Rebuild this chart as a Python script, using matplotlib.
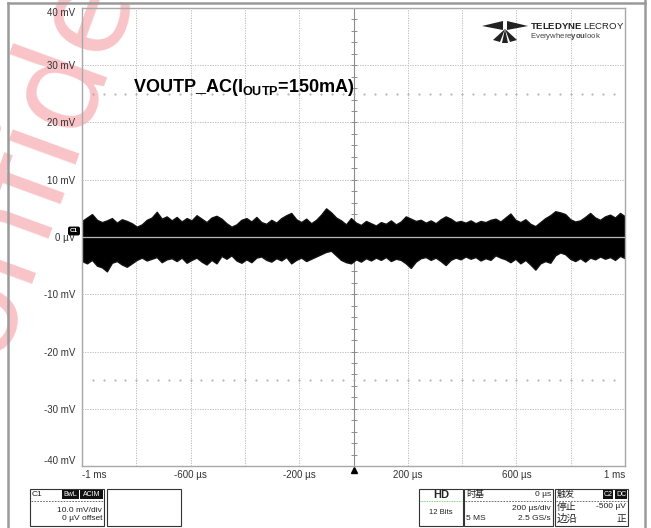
import numpy as np
import matplotlib
matplotlib.use("Agg")
from matplotlib import pyplot as plt
from matplotlib.patches import Rectangle, Polygon
from matplotlib.lines import Line2D
from matplotlib.transforms import Affine2D, blended_transform_factory

plt.rcParams['font.family'] = ['Liberation Sans', 'Noto Sans CJK SC', 'DejaVu Sans']
plt.rcParams['mathtext.fontset'] = 'custom'
plt.rcParams['mathtext.rm'] = 'Liberation Sans'
plt.rcParams['mathtext.bf'] = 'Liberation Sans:bold'

# data: envelope of the noise trace (mV), read along the screen, -1 ms .. 1 ms
upper_mv = [2.8, 3.4, 4.0, 3.0, 2.6, 2.9, 3.3, 2.5, 3.1, 2.8,
            2.4, 1.8, 2.2, 3.0, 3.4, 4.4, 3.2, 3.6, 2.9, 3.5,
            2.7, 3.3, 2.9, 3.8, 3.2, 2.6, 3.4, 3.7, 3.2, 2.4,
            1.8, 2.2, 3.0, 3.3, 2.7, 3.5, 2.6, 2.3, 3.0, 2.5,
            3.3, 3.8, 4.2, 3.1, 2.6, 3.2, 2.4, 3.0, 3.9, 5.0,
            4.3, 3.4, 2.9, 2.2, 3.3, 2.5, 2.1, 2.8, 2.4, 2.0,
            2.6, 2.3, 2.9, 2.2, 2.7, 3.6, 3.2, 2.8, 3.0, 2.5,
            2.9, 2.4, 3.1, 3.6, 3.2, 2.6, 2.8, 2.5, 2.9, 2.4,
            2.8, 2.6, 3.0, 3.2, 2.7, 3.4, 4.1, 3.0, 2.6, 3.1,
            2.3, 1.9, 2.6, 3.3, 3.8, 4.5, 4.3, 4.0, 3.1, 2.7,
            2.9, 3.5, 4.2, 3.4, 3.0, 3.6, 3.9, 3.4, 4.2, 3.6]
lower_mv = [-4.2, -4.6, -4.0, -5.0, -5.3, -6.0, -4.5, -4.2, -4.8, -5.2,
            -4.6, -4.0, -3.6, -4.1, -3.8, -3.5, -4.4, -3.9, -3.7, -4.2,
            -3.6, -4.5, -4.0, -3.6, -4.3, -4.8, -4.0, -4.6, -3.3, -3.8,
            -3.2, -4.1, -4.5, -3.9, -4.4, -3.6, -3.4, -4.0, -4.3, -3.7,
            -4.1, -3.5, -4.6, -4.0, -3.6, -4.2, -3.8, -3.4, -3.0, -2.6,
            -2.4, -3.2, -4.0, -4.4, -4.6, -3.9, -4.3, -3.7, -4.1, -3.6,
            -4.0, -3.5, -4.2, -3.8, -4.0, -4.6, -5.4, -4.3, -3.7, -3.5,
            -4.0, -3.6, -4.2, -4.9, -4.0, -3.6, -3.9, -3.4, -3.8, -3.5,
            -4.1, -3.7, -4.0, -3.2, -3.6, -3.9, -4.4, -3.8, -4.6, -4.0,
            -4.8, -5.7, -4.6, -4.2, -4.5, -3.2, -2.7, -3.0, -3.8, -4.2,
            -3.7, -4.3, -3.6, -3.9, -3.4, -3.8, -3.5, -4.0, -3.3, -3.7]
time_ms = np.linspace(-1.0, 1.0, len(upper_mv))

ytick_vals = [-40, -30, -20, -10, 0, 10, 20, 30, 40]
ytick_labels = ['-40 mV', '-30 mV', '-20 mV', '-10 mV', '0 µV', '10 mV', '20 mV', '30 mV', '40 mV']
xtick_vals = [-1.0, -0.6, -0.2, 0.2, 0.6, 1.0]
xtick_labels = ['-1 ms', '-600 µs', '-200 µs', '200 µs', '600 µs', '1 ms']
title_text = r'VOUTP_AC(I$_{\mathbf{OUTP}}$=150mA)'

W, H = 651, 528
fig = plt.figure(figsize=(W / 100, H / 100), dpi=100)
px = Affine2D().scale(1 / W, -1 / H).translate(0, 1) + fig.transFigure

# watermark behind everything
fig.text(-32, 440, 'Confidential', transform=px, rotation=70, rotation_mode='anchor',
         ha='left', va='baseline', fontsize=95, color='#f9c4c8', family='Noto Sans',
         zorder=-5)

ax = fig.add_axes([82 / W, 1 - 466 / H, (625 - 82) / W, (466 - 8) / H])
ax.patch.set_visible(False)
ax.set_xlim(-1, 1)
ax.set_ylim(-40, 40)
for s in ax.spines.values():
    s.set_color('#a8a8a8')
    s.set_linewidth(1.0)

# graticule
for gx in np.arange(-0.8, 0.81, 0.2):
    if abs(gx) > 1e-6:
        ax.axvline(gx, color='#b4b4b4', lw=0.6, ls=(0, (1.5, 1.5)), zorder=1)
for gy in range(-30, 31, 10):
    if gy != 0:
        ax.axhline(gy, color='#b4b4b4', lw=0.6, ls=(0, (1.5, 1.5)), zorder=1)
ax.axvline(0, color='#8c8c8c', lw=0.8, zorder=1)
ax.plot(np.arange(-0.96, 0.97, 0.04), np.zeros(49), ls='none', marker='|', ms=4,
        color='#8c8c8c', mew=0.7, zorder=1)
ax.plot(np.zeros(39), np.arange(-38, 39, 2), ls='none', marker='_', ms=4,
        color='#8c8c8c', mew=0.7, zorder=1)
for gy in (25, -25):
    ax.plot(np.arange(-0.96, 0.97, 0.04), np.full(49, gy), ls='none', marker='.', ms=1.0,
            color='#a8a8a8', zorder=1)

# trace
ax.fill_between(time_ms, lower_mv, upper_mv, color='black', lw=1.0, edgecolor='#111111', zorder=2)
ax.axhline(0, color='#b8b8b8', lw=0.9, zorder=3)

# ticks
ax.set_yticks(ytick_vals)
ax.set_yticklabels(ytick_labels)
ax.set_xticks(xtick_vals)
ax.set_xticklabels(xtick_labels)
ax.tick_params(length=0, labelsize=7, colors='#333333', pad=3)
ax.tick_params(axis='y', pad=5)
ylab = ax.get_yticklabels()
ylab[0].set_va('bottom')
ylab[-1].set_va('top')
xlab = ax.get_xticklabels()
xlab[0].set_ha('left')
xlab[-1].set_ha('right')

# trigger marker and channel badge
tr = blended_transform_factory(ax.transData, ax.transAxes)
ax.plot([0], [-0.008], marker='^', ms=5, color='black', transform=tr, clip_on=False)
fig.text(74, 231, 'C1', transform=px, ha='center', va='center', fontsize=4.5,
         color='white', fontweight='bold',
         bbox=dict(boxstyle='round,pad=0.2', fc='black', ec='black'))

ax.text(0.094, 0.8275, title_text, transform=ax.transAxes, fontsize=13,
        fontweight='bold', ha='left', va='center', color='black')

# outer frame
fig.add_artist(Line2D([8, 645], [3, 3], transform=px, color='#9a9a9a', lw=1.8))
fig.add_artist(Line2D([8, 8], [3, H], transform=px, color='#9a9a9a', lw=1.8))
fig.add_artist(Line2D([645, 645], [0, H], transform=px, color='#9a9a9a', lw=1.8))

# logo
for pts in ([(482, 26), (503, 21), (503, 30)],
            [(528, 26), (507, 21), (507, 30)],
            [(505, 29), (493, 40), (500, 42)],
            [(505, 29), (502, 43), (508, 43)],
            [(505, 29), (510, 42), (517, 40)]):
    fig.add_artist(Polygon(pts, closed=True, transform=px, fc='#222222', ec='none'))
fig.text(530, 26, r'$\mathbf{TELEDYNE}$ LECROY', transform=px, fontsize=6.8,
         va='center', color='#222222')
fig.text(530, 37, r'Everywhere$\mathbf{you}$look', transform=px, fontsize=5.6,
         va='center', color='#444444')


def box(x0, x1, y0=489, y1=526):
    fig.add_artist(Rectangle((x0, y0), x1 - x0, y1 - y0, transform=px, fill=False,
                             ec='#333333', lw=0.8))


def badge(x0, x1, label):
    fig.add_artist(Rectangle((x0, 490), x1 - x0, 9, transform=px, fc='#111111', ec='none'))
    fig.text((x0 + x1) / 2, 494.5, label, transform=px, fontsize=5, color='white',
             ha='center', va='center')


def sep(x0, x1, color='#555555', ls=(0, (2, 1.5))):
    fig.add_artist(Line2D([x0, x1], [501, 501], transform=px, color=color, lw=0.6, ls=ls))


def t(x, y, s, ha='left', size=6, **kw):
    fig.text(x, y, s, transform=px, fontsize=size, ha=ha, va='center', color='#222222', **kw)


box(30, 104)
box(107, 181)
t(32, 494, 'C1')
badge(62, 79, 'BwL')
badge(80, 103, 'ACIM')
sep(31, 103)
t(102, 510, '10.0 mV/div', ha='right')
t(102, 519, '0 µV offset', ha='right')

box(419, 463)
t(441, 495, 'HD', ha='center', size=8, fontweight='bold')
sep(420, 462, color='#5cc05c', ls=(0, (1, 1)))
t(441, 513, '12 Bits', ha='center', size=5.5)

box(464, 553)
t(466, 494, '时基', size=6.5)
t(551, 494, '0 µs', ha='right')
sep(465, 552)
t(551, 509, '200 µs/div', ha='right')
t(466, 519, '5 MS')
t(551, 519, '2.5 GS/s', ha='right')

box(555, 628)
t(557, 494, '触发', size=6.5)
badge(603, 613, 'C2')
badge(615, 627, 'DC')
sep(556, 627)
t(557, 507, '停止', size=7)
t(626, 507, '-500 µV', ha='right')
t(557, 519, '边沿', size=7.5)
t(626, 519, '正', ha='right', size=7)

fig.savefig('out.png', dpi=100)
